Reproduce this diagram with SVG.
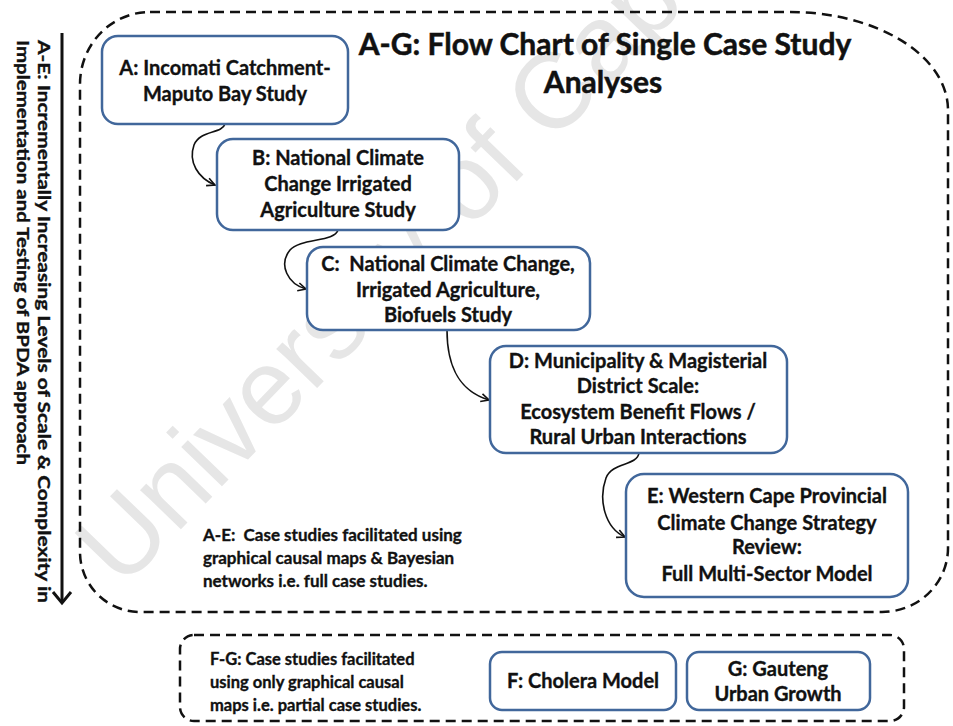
<svg xmlns="http://www.w3.org/2000/svg" width="953" height="726" viewBox="0 0 953 726">
  <style>
    text { font-family: "Lato", "Open Sans", "Liberation Sans", sans-serif; font-weight: 700; fill: #111; stroke: #111; stroke-width: 0.35; }
    .node rect { fill: #fff; stroke: #41679b; stroke-width: 2.5; }
    .nt { font-size: 20px; text-anchor: middle; }
    .note { font-size: 17px; }
    .fg { font-size: 16.5px; }
    .title { font-size: 30px; text-anchor: middle; stroke-width: 0.5; }
    .side { font-size: 17px; }
    .dash { fill: none; stroke: #111; stroke-width: 2.5; stroke-dasharray: 10 6; }
    .conn path { fill: none; stroke: #111; stroke-width: 1.6; }
    .wm { font-family: "Liberation Sans", sans-serif; font-weight: 400; font-size: 107px; fill: #e6e6e6; stroke: none; }
  </style>
  <defs>
    <marker id="chev" viewBox="0 0 10 10" refX="9" refY="5" markerWidth="10" markerHeight="10" markerUnits="userSpaceOnUse" orient="auto">
      <path d="M1,1 L9,5 L1,9" fill="none" stroke="#111" stroke-width="1.6"/>
    </marker>
  </defs>

  <rect width="953" height="726" fill="#fff"/>

  <!-- background watermark -->
  <text class="wm" transform="translate(122,590) rotate(-46)">University of Cape Town</text>

  <!-- grouping outline for studies A-E -->
  <path class="dash" d="M150,12 L790,12 A158,98 0 0 1 948,110 L948,548 A66,64 0 0 1 882,612 L140,612 A60,60 0 0 1 80,552 L80,84 A70,72 0 0 1 150,12 Z"/>

  <!-- grouping outline for studies F-G -->
  <rect class="dash" x="180" y="635" width="724" height="86" rx="14"/>

  <!-- side axis -->
  <g id="axis">
    <line x1="62" y1="33" x2="62" y2="603" stroke="#111" stroke-width="3"/>
    <path d="M53,592 L62,603 L71,592" fill="none" stroke="#111" stroke-width="3"/>
    <text class="side" transform="translate(38,40) rotate(90)" textLength="563" lengthAdjust="spacingAndGlyphs">A-E:  Incrementally  Increasing Levels of  Scale &amp; Complexity in</text>
    <text class="side" transform="translate(17,40) rotate(90)" textLength="425" lengthAdjust="spacingAndGlyphs">Implementation and Testing of BPDA approach</text>
  </g>

  <!-- title -->
  <g id="title">
    <text class="title" x="605" y="55">A-G: Flow Chart of Single Case Study</text>
    <text class="title" x="603" y="93">Analyses</text>
  </g>

  <!-- connectors -->
  <g class="conn" id="connectors">
    <path marker-end="url(#chev)" d="M225,124 C222,134 200,130 194,145 C188,162 198,178 215,185"/>
    <path marker-end="url(#chev)" d="M338,230 C335,242 300,238 290,250 C278,265 288,284 306,289"/>
    <path marker-end="url(#chev)" d="M447,330 C447,362 456,390 489,400"/>
    <path marker-end="url(#chev)" d="M639,453 C637,466 612,462 606,478 C598,500 605,528 625,537"/>
  </g>

  <g class="node" id="nodeA">
    <rect x="102" y="36" width="246" height="88" rx="16"/>
    <text class="nt" x="225" y="75">A: Incomati Catchment-</text>
    <text class="nt" x="225" y="101">Maputo Bay Study</text>
  </g>

  <g class="node" id="nodeB">
    <rect x="217" y="139" width="242" height="91" rx="16"/>
    <text class="nt" x="338" y="165">B: National Climate</text>
    <text class="nt" x="338" y="191">Change Irrigated</text>
    <text class="nt" x="338" y="217">Agriculture Study</text>
  </g>

  <g class="node" id="nodeC">
    <rect x="307" y="247" width="283" height="83" rx="16"/>
    <text class="nt" x="448" y="271" xml:space="preserve">C:  National Climate Change,</text>
    <text class="nt" x="448" y="297">Irrigated Agriculture,</text>
    <text class="nt" x="448" y="322">Biofuels Study</text>
  </g>

  <g class="node" id="nodeD">
    <rect x="490" y="346" width="297" height="107" rx="16"/>
    <text class="nt" x="638" y="368">D: Municipality &amp; Magisterial</text>
    <text class="nt" x="638" y="393">District Scale:</text>
    <text class="nt" x="638" y="419">Ecosystem Benefit Flows /</text>
    <text class="nt" x="638" y="444">Rural Urban Interactions</text>
  </g>

  <g class="node" id="nodeE">
    <rect x="626" y="474" width="282" height="123" rx="18"/>
    <text class="nt" x="767" y="503">E: Western Cape Provincial</text>
    <text class="nt" x="767" y="530">Climate Change Strategy</text>
    <text class="nt" x="767" y="554">Review:</text>
    <text class="nt" x="767" y="581">Full Multi-Sector Model</text>
  </g>

  <g id="noteAE">
    <text class="note" x="203" y="541" xml:space="preserve">A-E:  Case studies facilitated using</text>
    <text class="note" x="203" y="564">graphical causal maps &amp; Bayesian</text>
    <text class="note" x="203" y="587">networks i.e. full case studies.</text>
  </g>

  <g id="noteFG">
    <text class="fg" x="210" y="665">F-G: Case studies facilitated</text>
    <text class="fg" x="210" y="688">using only graphical causal</text>
    <text class="fg" x="210" y="711">maps i.e. partial case studies.</text>
  </g>

  <g class="node" id="nodeF">
    <rect x="490" y="652" width="186" height="58" rx="12"/>
    <text class="nt" x="583" y="688">F: Cholera Model</text>
  </g>

  <g class="node" id="nodeG">
    <rect x="687" y="652" width="183" height="58" rx="12"/>
    <text class="nt" x="778" y="676">G: Gauteng</text>
    <text class="nt" x="778" y="701">Urban Growth</text>
  </g>
</svg>
